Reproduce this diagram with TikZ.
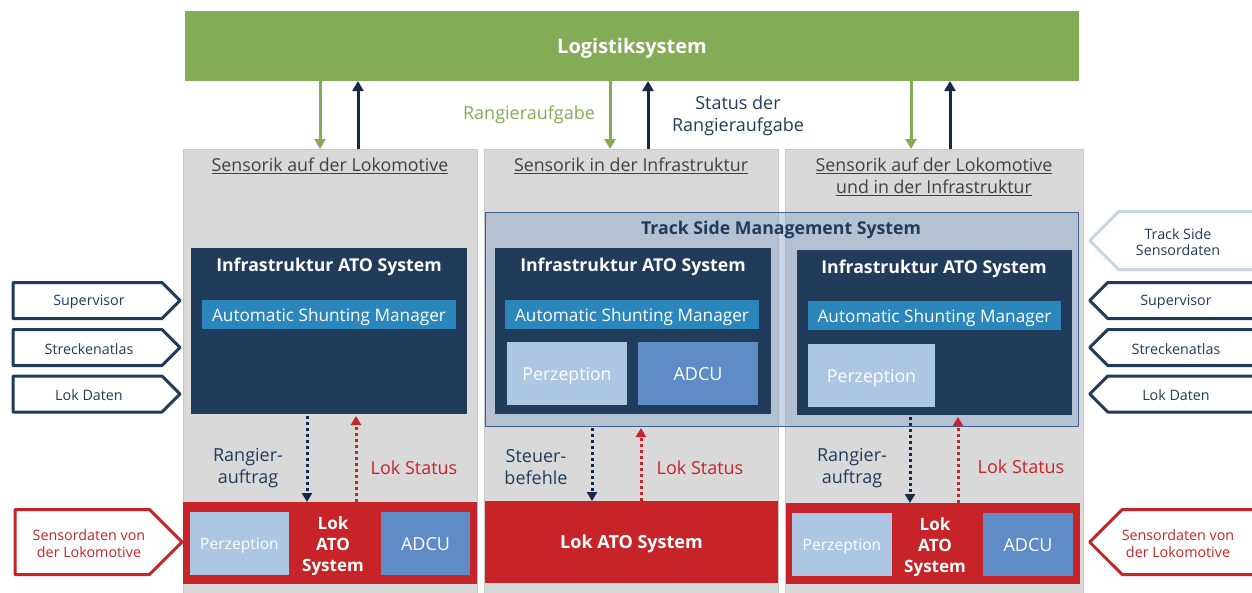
\documentclass[tikz,border=0pt]{standalone}
\usepackage{fontspec}
\setmainfont{Open Sans}
\usetikzlibrary{arrows.meta,shapes.symbols}

\definecolor{logigreen}{HTML}{84AB55}
\definecolor{atonavy}{HTML}{213B5B}
\definecolor{flownavy}{HTML}{14294A}
\definecolor{asmblue}{HTML}{2B86BB}
\definecolor{perblue}{HTML}{ADC6E2}
\definecolor{adcublue}{HTML}{5F8CC6}
\definecolor{lokred}{HTML}{C62428}
\definecolor{colgray}{HTML}{D9D9D9}
\definecolor{headgray}{HTML}{404040}
\definecolor{tsmsblue}{HTML}{8FABCD}
\definecolor{tsmsline}{HTML}{3F6391}
\definecolor{sideblue}{HTML}{C8D5E6}

% box from (x1,y1) to (x2,y2), in pixels of the page
\newcommand\blk[7]{\node[#1,minimum width={#4-#2},minimum height={#5-#3}] (#6) at (#2,#3) {#7};}

\tikzset{
  blk/.style={anchor=north west, inner sep=0pt, outer sep=0pt, align=center, text=white, text depth=0pt},
  colbox/.style={blk, fill=colgray, draw=black!22, line width=.8pt},
  atobox/.style={blk, fill=atonavy},
  asmbox/.style={blk, fill=asmblue, font=\fontsize{17.2}{20}\selectfont},
  perbox/.style={blk, fill=perblue, font=\fontsize{17.7}{20}\selectfont},
  adcubox/.style={blk, fill=adcublue, font=\fontsize{18}{20}\selectfont},
  lokbox/.style={blk, fill=lokred, font=\bfseries\fontsize{18}{21}\selectfont},
  head/.style={text=headgray, align=center, inner sep=0pt, font=\fontsize{17.8}{22}\selectfont},
  ttl/.style={inner sep=0pt, text=white, font=\bfseries\fontsize{17.7}{21}\selectfont},
  lbl/.style={inner sep=0pt, align=center, font=\fontsize{18}{22}\selectfont},
  chev/.style={signal, draw=atonavy, line width=3pt, fill=white, inner sep=0pt},
  chevtxt/.style={inner sep=0pt, align=center, text=atonavy, font=\fontsize{14.3}{16.5}\selectfont},
  downflow/.style={draw=logigreen, line width=3pt, -{Triangle[width=11pt,length=10pt]}},
  upflow/.style={draw=flownavy, line width=3pt, -{Triangle[width=11pt,length=10pt]}},
  cmdflow/.style={draw=flownavy, line width=3pt, dash pattern=on 3pt off 3pt,
    -{Triangle[width=10pt,length=9pt]}},
  statflow/.style={cmdflow, draw=lokred},
}

\begin{document}
\begin{tikzpicture}[x=1pt, y=-1pt, line join=round]
  \useasboundingbox (0,0) rectangle (1252,592);
  \clip (0,0) rectangle (1252,592);

  \path
    (320,0) coordinate (g1) (358,0) coordinate (d1)
    (610,0) coordinate (g2) (648,0) coordinate (d2)
    (911,0) coordinate (g3) (950,0) coordinate (d3)
    (307,0) coordinate (c1) (356,0) coordinate (s1)
    (592,0) coordinate (c2) (641,0) coordinate (s2)
    (910,0) coordinate (c3) (958,0) coordinate (s3);

  % Logistik und Spalten
  \blk{blk, fill=logigreen, font=\bfseries\fontsize{20}{24}\selectfont}{185}{11}{1079}{81}{log}{Logistiksystem}
  \blk{colbox}{183}{149}{477}{600}{col1}{}
  \blk{colbox}{484}{149}{778}{600}{col2}{}
  \blk{colbox}{785}{149}{1083}{600}{col3}{}
  \node[head] (h1) at (330,166) {\underline{Sensorik auf der Lokomotive}};
  \node[head] (h2) at (631,166) {\underline{Sensorik in der Infrastruktur}};
  \node[head] (h3) at (934,177) {\underline{Sensorik auf der Lokomotive}\\\underline{und in der Infrastruktur}};

  % Track Side Management System
  \blk{blk, fill=tsmsblue, fill opacity=.5, draw=tsmsline, line width=.8pt}{485}{212}{1078}{426}{tsms}{}
  \node[ttl, text=atonavy] (tsmst) at (781,230) {Track Side Management System};

  % Infrastruktur ATO Systeme
  \blk{atobox}{191}{248}{467}{414}{ato1}{}
  \blk{atobox}{495}{248}{771}{414}{ato2}{}
  \blk{atobox}{797}{250}{1072}{415}{ato3}{}
  \node[ttl] (ato1t) at (329,267) {Infrastruktur ATO System};
  \node[ttl] (ato2t) at (633,267) {Infrastruktur ATO System};
  \node[ttl] (ato3t) at (934,269) {Infrastruktur ATO System};
  \blk{asmbox}{202}{300}{456}{329}{asm1}{Automatic Shunting Manager}
  \blk{asmbox}{505}{300}{759}{329}{asm2}{Automatic Shunting Manager}
  \blk{asmbox}{808}{301}{1061}{330}{asm3}{Automatic Shunting Manager}
  \blk{perbox}{507}{342}{627}{405}{per2}{Perzeption}
  \blk{adcubox}{638}{342}{758}{405}{adcu2}{ADCU}
  \blk{perbox}{808}{344}{935}{407}{per3}{Perzeption}

  % Lok ATO Systeme
  \blk{lokbox}{183}{502}{477}{584}{lok1}{}
  \blk{lokbox}{485}{501}{778}{583}{lok2}{Lok ATO System}
  \blk{lokbox}{786}{503}{1080}{584}{lok3}{}
  \blk{perbox, font=\fontsize{15.6}{18}\selectfont}{190}{512}{289}{575}{lper1}{Perzeption}
  \blk{adcubox}{381}{512}{470}{575}{ladcu1}{ADCU}
  \blk{perbox, font=\fontsize{15.6}{18}\selectfont}{792}{513}{892}{576}{lper3}{Perzeption}
  \blk{adcubox}{983}{513}{1073}{576}{ladcu3}{ADCU}
  \node[lbl, text=white, font=\bfseries\fontsize{17}{21}\selectfont] (lok1t) at (333,546) {Lok\\ATO\\System};
  \node[lbl, text=white, font=\bfseries\fontsize{17}{21}\selectfont] (lok3t) at (935,547) {Lok\\ATO\\System};

  % Pfeile Logistik
  \foreach \c/\g/\d in {col1/g1/d1, col2/g2/d2, col3/g3/d3}{
    \draw[downflow] (log.south -| \g) -- (\c.north -| \g);
    \draw[upflow] (\c.north -| \d) -- (log.south -| \d);
  }
  \node[lbl, text=logigreen] (rauf) at (529,115) {Rangieraufgabe};
  \node[lbl, text=atonavy] (sauf) at (738,116) {Status der\\Rangieraufgabe};

  % Pfeile Lok
  \foreach \a/\l/\c/\s in {ato1/lok1/c1/s1, tsms/lok2/c2/s2, ato3/lok3/c3/s3}{
    \draw[cmdflow] (\a.south -| \c) ++(0,2) -- (\l.north -| \c);
    \draw[statflow] (\l.north -| \s) -- ([yshift=-2pt]\a.south -| \s);
  }
  \node[lbl, text=atonavy] (ra1) at (248,468) {Rangier-\\auftrag};
  \node[lbl, text=atonavy] (sb2) at (536,467) {Steuer-\\befehle};
  \node[lbl, text=atonavy] (ra3) at (852,468) {Rangier-\\auftrag};
  \node[lbl, text=lokred] (ls1) at (414,468) {Lok Status};
  \node[lbl, text=lokred] (ls2) at (700,468) {Lok Status};
  \node[lbl, text=lokred] (ls3) at (1021,467) {Lok Status};

  % Eingaenge links und rechts
  \foreach \t/\y/\n in {Supervisor/300.5/sup, Streckenatlas/347.5/str, Lok Daten/394/lok}{
    \node[chev, signal to=east, minimum width=167, minimum height=36, anchor=west] (\n L) at (11.5,\y) {};
    \node[chevtxt] (\n Lt) at (89,\y+1.5) {\t};
    \node[chev, signal to=west, minimum width=190, minimum height=36, anchor=west] (\n R) at (1087.5,\y) {};
    \node[chevtxt] (\n Rt) at (1176,\y+1.5) {\t};
  }
  \node[chev, signal to=west, draw=sideblue, minimum width=190, minimum height=58, anchor=west] (tssR) at (1087.5,240.5) {};
  \node[chevtxt] (tssRt) at (1178,242) {Track Side\\Sensordaten};
  \node[chev, signal to=east, draw=lokred, minimum width=167, minimum height=65, anchor=west] (sensL) at (13.5,542) {};
  \node[chevtxt, text=lokred] (sensLt) at (89,543.5) {Sensordaten von\\der Lokomotive};
  \node[chev, signal to=west, draw=lokred, minimum width=190, minimum height=65, anchor=west] (sensR) at (1087.5,542) {};
  \node[chevtxt, text=lokred] (sensRt) at (1178,543.5) {Sensordaten von\\der Lokomotive};
\end{tikzpicture}
\end{document}
